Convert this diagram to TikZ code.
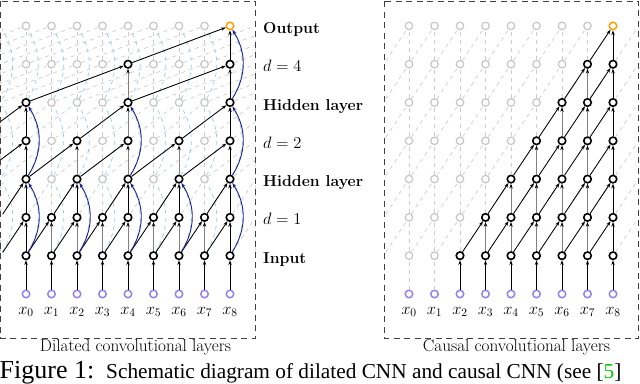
\RequirePackage{fix-cm}
\documentclass[tikz,border=0pt]{standalone}
\usepackage{fontspec}
\newfontfamily\capfont{Liberation Serif}
\usetikzlibrary{arrows.meta}
\definecolor{purp}{RGB}{150,130,235}
\definecolor{outor}{RGB}{255,160,0}
\definecolor{resblue}{RGB}{30,30,150}
\definecolor{lblue}{RGB}{150,200,230}
\definecolor{refgreen}{RGB}{0,200,0}
\begin{document}
\begin{tikzpicture}[x=1pt,y=-1pt,
  every node/.style={font=\fontsize{15.5}{18}\selectfont},
  st0/.style={circle,minimum size=7.5pt,inner sep=0pt},
  st1/.style={st0,draw=gray!45,line width=1.2pt},
  st2/.style={st0,draw=black,line width=1.6pt,fill=white},
  st3/.style={st0,draw=outor,line width=1.5pt,fill=white},
  inp/.style={st0,draw=purp,line width=1.5pt},
  edge/.style={-{Stealth[length=4.8pt,width=3.4pt]},line width=0.85pt},
  gedge/.style={-{Stealth[length=4.8pt,width=3.4pt,color=black]},line width=0.85pt,black!50},
  bg/.style={gray!40,line width=0.7pt,dash pattern=on 4pt off 4pt},
  bgres/.style={lblue,line width=0.7pt,dash pattern=on 4pt off 4pt},
  res/.style={edge,resblue,line width=0.9pt},
  lab/.style={anchor=base west,inner sep=0pt,font=\fontsize{15.8}{18}\selectfont\bfseries},
  dlab/.style={anchor=base west,inner sep=0pt,font=\fontsize{16.5}{19}\selectfont},
  xlab/.style={anchor=base,font=\fontsize{16.5}{19}\selectfont},
  panelcap/.style={anchor=base,font=\fontsize{17.2}{20}\selectfont},
  box/.style={line width=0.9pt,dash pattern=on 6pt off 4.5pt,black!75}
]
\useasboundingbox (0,0) rectangle (640,383);
\begin{scope}
\clip (0,0) rectangle (640,383);

% ---------- left panel nodes ----------
\foreach \r in {1,...,7} {
  \foreach \j in {0,...,16} {
    \pgfmathtruncatemacro\i{\j-4}
    \pgfmathtruncatemacro\st{ifthenelse(\i<0 || \i>8, 0, ifthenelse(\r==7, ifthenelse(\i==8,3,1), ifthenelse(\r<=2, 2, ifthenelse(\r<=4, ifthenelse(mod(\j,2)==0,2,1), ifthenelse(\r==5, ifthenelse(mod(\j,4)==0,2,1), ifthenelse(\i==4 || \i==8,2,1))))))}
    \node[st\st] (L\j-\r) at ({26+25.5*\i},{294-38.3*\r}) {};
  }
}
\foreach \j in {4,...,12} {
  \pgfmathtruncatemacro\i{\j-4}
  \node[inp] (L\j-0) at ({26+25.5*\i},294) {};
  \node[xlab] (LX\j) at ({26+25.5*\i},314) {$x_{\i}$};
}

% ---------- right panel nodes ----------
\foreach \r in {1,...,7} {
  \foreach \j in {0,...,10} {
    \pgfmathtruncatemacro\i{\j-1}
    \pgfmathtruncatemacro\st{ifthenelse(\i<0 || \i>8, 0, ifthenelse(\r==7, ifthenelse(\i==8,3,1), ifthenelse(\i>=\r+1,2,1)))}
    \node[st\st] (R\j-\r) at ({409+25.5*\i},{294-38.3*\r}) {};
  }
}
\foreach \j in {1,...,9} {
  \pgfmathtruncatemacro\i{\j-1}
  \node[inp] (R\j-0) at ({409+25.5*\i},294) {};
  \node[xlab] (RX\j) at ({409+25.5*\i},314) {$x_{\i}$};
}

% ---------- left background ----------
\begin{scope}
\clip (0,0) rectangle (255.5,338);
\foreach \r/\d in {1/1,2/1,3/2,4/2,5/4,6/4} {
  \pgfmathtruncatemacro\s{\r+1}
  \foreach \j in {0,...,16} {
    \draw[bg] (L\j-\r) -- (L\j-\s);
    \pgfmathtruncatemacro\k{\j-\d}
    \ifnum\k>-1 \draw[bg] (L\k-\r) -- (L\j-\s); \fi
  }
}
\foreach \r in {1,3,5} {
  \pgfmathtruncatemacro\s{\r+2}
  \foreach \j in {0,...,16} \draw[bgres] (L\j-\r) to[bend right=30] (L\j-\s);
}
\end{scope}

% ---------- right background ----------
\begin{scope}
\clip (384,0) rectangle (638.5,338);
\draw[bg] (R1-0) -- (R1-1);
\draw[bg] (R2-0) -- (R2-1);
\foreach \r in {1,...,6} {
  \pgfmathtruncatemacro\s{\r+1}
  \foreach \j in {1,...,10} {
    \ifnum\j<10 \draw[bg] (R\j-\r) -- (R\j-\s); \fi
    \pgfmathtruncatemacro\k{\j-1}
    \draw[bg] (R\k-\r) -- (R\j-\s);
  }
}
\end{scope}

% ---------- left black edges ----------
\foreach \j in {4,...,12} \draw[edge] (L\j-0) -- (L\j-1);
\foreach \j in {4,...,12} {
  \pgfmathtruncatemacro\k{\j-1}
  \ifnum\j=4 \draw[edge] (L\j-1) -- (L\j-2); \else\ifnum\j=12 \draw[edge] (L\j-1) -- (L\j-2); \else \draw[gedge] (L\j-1) -- (L\j-2); \fi\fi
  \draw[edge] (L\k-1) -- (L\j-2);
}
\foreach \j in {4,6,8,10,12} {
  \pgfmathtruncatemacro\k{\j-1}
  \draw[edge] (L\j-2) -- (L\j-3);
  \draw[edge] (L\k-2) -- (L\j-3);
}
\foreach \j in {4,6,8,10,12} {
  \pgfmathtruncatemacro\k{\j-2}
  \ifnum\j=4 \draw[edge] (L\j-3) -- (L\j-4); \else\ifnum\j=12 \draw[edge] (L\j-3) -- (L\j-4); \else \draw[gedge] (L\j-3) -- (L\j-4); \fi\fi
  \draw[edge] (L\k-3) -- (L\j-4);
}
\foreach \j in {4,8,12} {
  \pgfmathtruncatemacro\k{\j-2}
  \ifnum\j=8 \draw[gedge] (L\j-4) -- (L\j-5); \else \draw[edge] (L\j-4) -- (L\j-5); \fi
  \draw[edge] (L\k-4) -- (L\j-5);
}
\draw[gedge] (L8-5) -- (L8-6);
\draw[edge] (L4-5) -- (L8-6);
\draw[edge] (L12-5) -- (L12-6);
\draw[edge] (L8-5) -- (L12-6);
\draw[edge] (L12-6) -- (L12-7);
\draw[edge] (L8-6) -- (L12-7);
% residual connections
\foreach \j in {4,6,8,10,12} \draw[res] (L\j-1) to[bend right=32] (L\j-3);
\foreach \j in {4,8,12} \draw[res] (L\j-3) to[bend right=32] (L\j-5);
\draw[res] (L12-5) to[bend right=32] (L12-7);

% ---------- right black edges ----------
\foreach \j in {3,...,9} \draw[edge] (R\j-0) -- (R\j-1);
\foreach \r in {1,...,6} {
  \pgfmathtruncatemacro\s{\r+1}
  \pgfmathtruncatemacro\a{\r+3}
  \foreach \j in {\a,...,9} {
    \pgfmathtruncatemacro\k{\j-1}
    \ifnum\j=9 \draw[edge] (R\j-\r) -- (R\j-\s); \else \draw[gedge] (R\j-\r) -- (R\j-\s); \fi
    \draw[edge] (R\k-\r) -- (R\j-\s);
  }
}

% ---------- boxes and labels ----------
\draw[box] (0.8,1) rectangle (255.5,338);
\draw[box] (384,1) rectangle (638.5,338);
\node[lab] (lo) at (263,{294-38.3*7+7.5}) {Output};
\node[dlab] (l4) at (263,{294-38.3*6+7.5}) {$d=4$};
\node[lab] (lh2) at (263,{294-38.3*5+7.5}) {Hidden layer};
\node[dlab] (l2) at (263,{294-38.3*4+7.5}) {$d=2$};
\node[lab] (lh1) at (263,{294-38.3*3+7.5}) {Hidden layer};
\node[dlab] (l1) at (263,{294-38.3*2+7.5}) {$d=1$};
\node[lab] (li) at (263,{294-38.3*1+7.5}) {Input};
\node[panelcap] (capL) at (135.5,351) {Dilated convolutional layers};
\node[panelcap] (capR) at (516.5,351) {Causal convolutional layers};
\node[anchor=base west,inner sep=0pt] (fig) at (-0.5,378) {\capfont\fontsize{26}{28}\selectfont Figure 1:};
\node[anchor=base west,inner sep=0pt] (figtxt) at (106,378) {\capfont\fontsize{21.3}{24}\selectfont Schematic diagram of dilated CNN and causal CNN (see [\textcolor{refgreen}{5}]};
\end{scope}
\end{tikzpicture}
\end{document}
